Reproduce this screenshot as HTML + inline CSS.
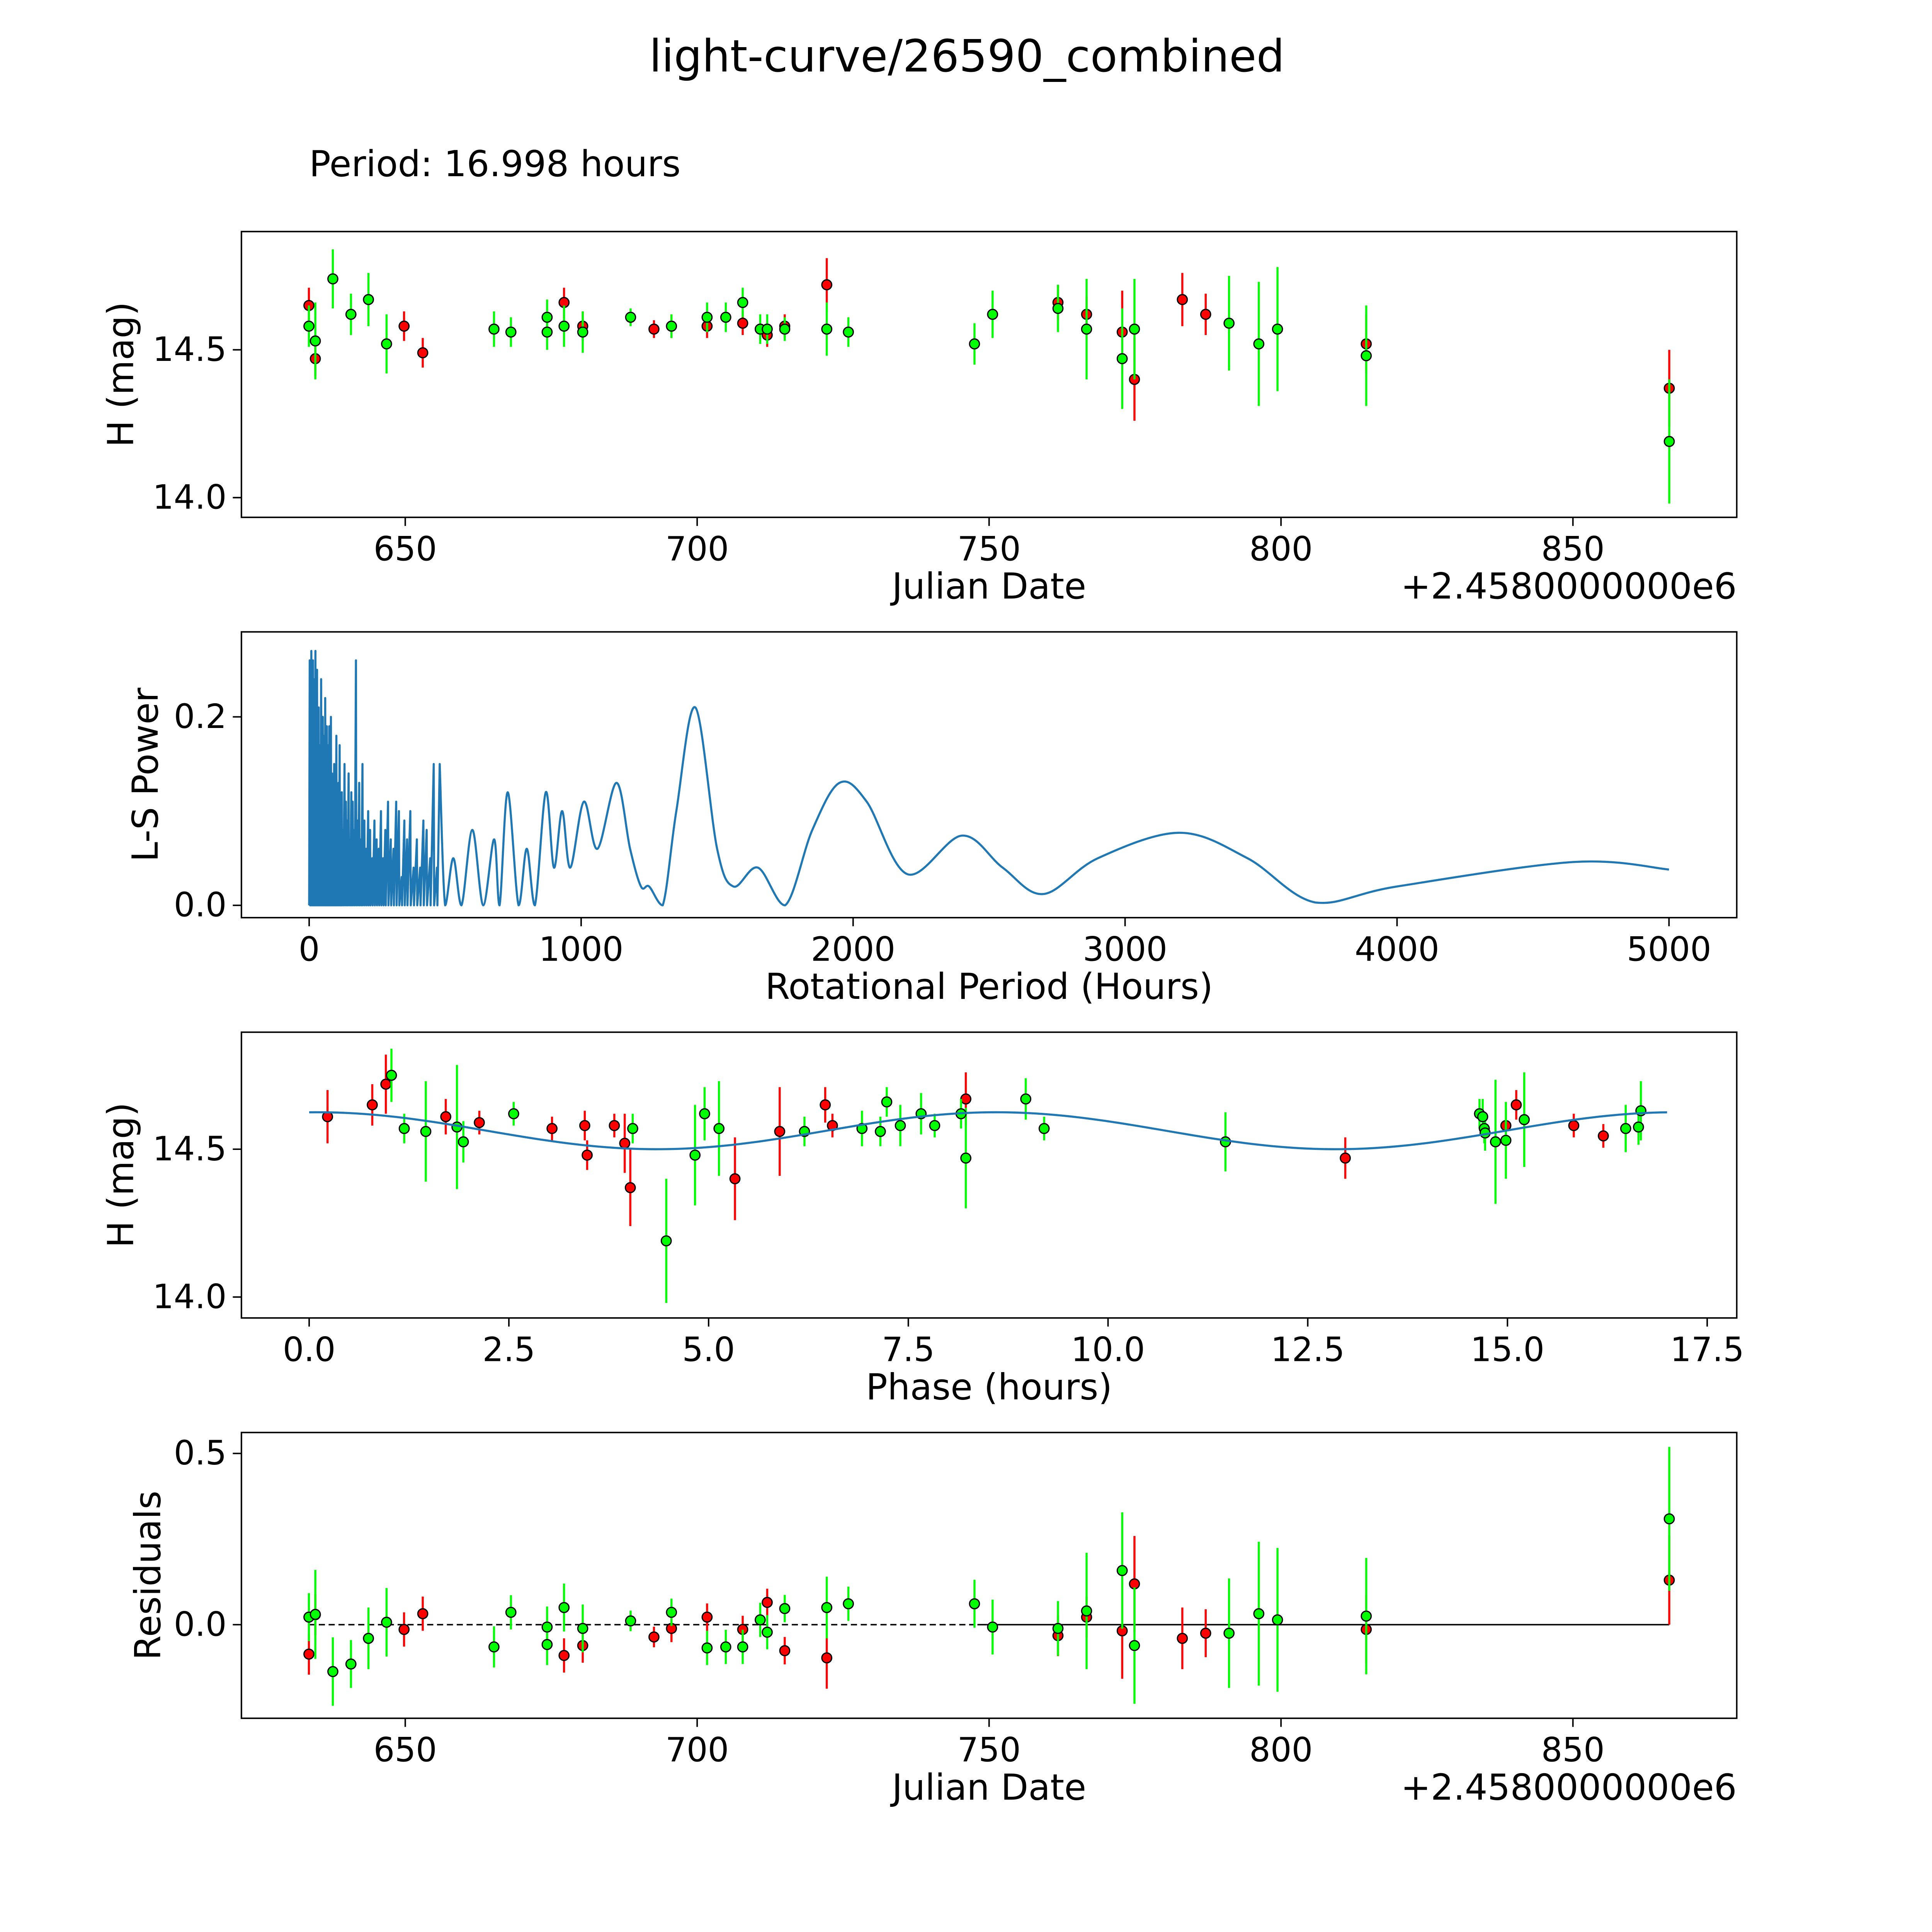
<!DOCTYPE html>
<html><head><meta charset="utf-8"><style>
html,body{margin:0;padding:0;background:#fff;overflow:hidden;width:5400px;height:5400px}
svg{display:block}
text{font-family:"DejaVu Sans","Liberation Sans",sans-serif;fill:#000}
</style></head><body>
<svg id="fig" xmlns="http://www.w3.org/2000/svg" width="5400" height="5400" viewBox="0 0 1694 1694">
<rect x="0" y="0" width="1694" height="1694" fill="#fff"/>
<text x="785" y="58" font-size="36" text-anchor="middle">light-curve/26590_combined</text>
<text x="251" y="143" font-size="29">Period: 16.998 hours</text>
</svg>
<script>
// ---- data: panel 1 / 4 (Julian date offset) ----
const greenJD = [633.5,634.6,637.6,640.7,643.7,646.8,665.2,668.1,674.3,674.3,677.2,680.4,688.6,695.6,701.7,704.9,707.8,710.8,712.0,715.0,722.2,725.9,747.5,750.6,761.8,766.7,772.8,774.9,791.1,796.2,799.4,814.6,866.5];
const greenMag = [14.58,14.53,14.74,14.62,14.67,14.52,14.57,14.56,14.61,14.56,14.58,14.56,14.61,14.58,14.61,14.61,14.66,14.57,14.57,14.57,14.57,14.56,14.52,14.62,14.64,14.57,14.47,14.57,14.59,14.52,14.57,14.48,14.19];
const greenErr = [0.07,0.13,0.10,0.07,0.09,0.10,0.06,0.05,0.06,0.06,0.07,0.07,0.03,0.04,0.05,0.05,0.05,0.05,0.05,0.04,0.09,0.05,0.07,0.08,0.08,0.17,0.17,0.17,0.16,0.21,0.21,0.17,0.21];
const greenRes = [0.022,0.03,-0.137,-0.115,-0.04,0.007,-0.065,0.036,-0.007,-0.058,0.05,-0.011,0.011,0.036,-0.068,-0.065,-0.065,0.014,-0.022,0.047,0.05,0.061,0.061,-0.007,-0.011,0.04,0.158,-0.061,-0.025,0.032,0.014,0.025,0.309];
const redJD = [633.5,634.6,649.8,653.0,677.2,680.4,692.6,695.6,701.7,707.8,712.0,715.0,722.2,761.8,766.7,772.8,774.9,783.1,787.1,814.6,866.5];
const redMag = [14.65,14.47,14.58,14.49,14.66,14.58,14.57,14.58,14.58,14.59,14.55,14.58,14.72,14.66,14.62,14.56,14.40,14.67,14.62,14.52,14.37];
const redErr = [0.06,0.06,0.05,0.05,0.05,0.05,0.03,0.04,0.04,0.04,0.04,0.04,0.09,0.06,0.06,0.14,0.14,0.09,0.07,0.10,0.13];
const redRes = [-0.086,0.029,-0.014,0.032,-0.09,-0.061,-0.036,-0.011,0.022,-0.014,0.065,-0.076,-0.097,-0.032,0.022,-0.018,0.119,-0.04,-0.025,-0.014,0.13];
// ---- data: panel 3 (phase) ----
const greenPhase = [1.19,1.46,1.85,1.93,1.03,2.56,4.05,4.47,4.83,4.95,5.13,6.20,6.92,7.15,7.23,7.40,7.66,7.83,8.16,8.22,8.97,9.20,11.47,14.65,14.69,14.71,14.72,14.85,14.98,15.21,16.48,16.64,16.67];
const greenPMag = [14.57,14.56,14.575,14.525,14.75,14.62,14.57,14.19,14.48,14.62,14.57,14.56,14.57,14.56,14.66,14.58,14.62,14.58,14.62,14.47,14.67,14.57,14.525,14.62,14.61,14.57,14.555,14.525,14.53,14.60,14.57,14.575,14.63];
const greenPErr = [0.05,0.17,0.21,0.07,0.09,0.04,0.05,0.21,0.17,0.09,0.16,0.05,0.06,0.05,0.05,0.07,0.07,0.04,0.05,0.17,0.07,0.04,0.1,0.05,0.06,0.05,0.06,0.21,0.13,0.16,0.08,0.06,0.1];
const redPhase = [0.23,0.79,0.96,1.71,2.13,3.04,3.45,3.48,3.82,3.95,4.02,5.33,5.89,6.46,6.55,8.22,12.97,14.98,15.11,15.83,16.20];
const redPMag = [14.61,14.65,14.72,14.61,14.59,14.57,14.58,14.48,14.58,14.52,14.37,14.40,14.56,14.65,14.58,14.67,14.47,14.58,14.65,14.58,14.545];
const redPErr = [0.09,0.07,0.1,0.06,0.04,0.04,0.05,0.05,0.04,0.1,0.13,0.14,0.15,0.06,0.04,0.09,0.07,0.06,0.05,0.04,0.04];
const modelCoef = [14.5625, 0.0625, 8.6, 8.5]; // mean, amplitude, peak phase, harmonic period
// ---- data: periodogram ----
const spikePeriods = [2,5,8,11,14,17,20,23,26,29,32,35,38,41,44,47,50,53,56,59,62,65,68,71,74,77,80,84,88,92,96,100,104,108,112,116,120,125,130,135,140,145,150,155,160,166,172,178,184,190,196,203,210,217,224,232,240,248,256,264,272,280,290,300,310,320,330,340,350,360,372,384,396,408,420,432,445,458,470];
const spikePowers = [0.26,0.23,0.27,0.20,0.26,0.24,0.18,0.27,0.22,0.25,0.19,0.21,0.17,0.15,0.24,0.16,0.20,0.13,0.18,0.22,0.14,0.19,0.12,0.17,0.19,0.10,0.20,0.14,0.12,0.15,0.11,0.18,0.09,0.13,0.17,0.10,0.12,0.08,0.15,0.11,0.09,0.14,0.07,0.12,0.11,0.08,0.26,0.09,0.13,0.07,0.15,0.09,0.06,0.10,0.08,0.05,0.09,0.07,0.06,0.10,0.05,0.08,0.11,0.07,0.06,0.11,0.10,0.03,0.09,0.07,0.10,0.04,0.07,0.04,0.09,0.08,0.05,0.15,0.04];
const smoothPeriods = [480,500,530,560,600,640,680,700,730,770,800,830,870,900,930,960,1010,1060,1130,1180,1220,1250,1300,1350,1420,1500,1560,1650,1750,1850,1950,2050,2200,2400,2550,2700,2900,3200,3450,3700,4000,4650,5000];
const smoothPowers = [0.15,0.0,0.05,0.0,0.08,0.0,0.07,0.0,0.12,0.0,0.06,0.0,0.12,0.04,0.10,0.04,0.11,0.06,0.13,0.06,0.02,0.02,0.0,0.10,0.21,0.06,0.02,0.04,0.0,0.08,0.13,0.11,0.033,0.074,0.04,0.012,0.05,0.077,0.05,0.003,0.02,0.046,0.038];
// ---- ticks ----
const jdTicks = [650,700,750,800,850];
const magTicks = [14.0,14.5];
const periodTicks = [0,1000,2000,3000,4000,5000];
const powerTicks = [0.0,0.2];
const phaseTicks = [0,2.5,5,7.5,10,12.5,15,17.5];
const resTicks = [0.0,0.5];

const NS='http://www.w3.org/2000/svg';
const svg=document.getElementById('fig');
function mk(tag,attrs,parent){const e=document.createElementNS(NS,tag);for(const k in attrs)e.setAttribute(k,attrs[k]);(parent||svg).appendChild(e);return e;}
function lin(d0,d1,p0,p1){return v=>p0+(v-d0)*(p1-p0)/(d1-d0);}

const X0=196,X1=1410;
const jdX=lin(650,850,329,1277);
const panels=[
 {top:188,bot:420,y:lin(14.5,14.0,284,404),name:'light-curve'},
 {top:513,bot:745,y:lin(0,0.2,735,582),name:'periodogram'},
 {top:838,bot:1070,y:lin(14.5,14.0,933,1053),name:'phase'},
 {top:1163,bot:1395,y:lin(0,0.5,1319,1180),name:'residuals'}];
const perX=lin(0,5000,251,1355);
const phX=lin(0,17.5,251,1386);

function fmt(v,d){return v.toFixed(d);}
function axes(p,xs,xf,xd,ys,yd,xlabel,ylabel,ylx,offset){
 const g=mk('g',{});
 
 
 xs.forEach(v=>{const x=xf(v);
  mk('line',{x1:x,x2:x,y1:p.bot,y2:p.bot+7,stroke:'#000','stroke-width':1.2},g);
  const tx=mk('text',{x:x,y:p.bot+35,'font-size':27,'text-anchor':'middle'},g);
  tx.textContent=fmt(v,xd);
  
  });
 ys.forEach(v=>{const y=p.y(v);
  mk('line',{x1:X0-7,x2:X0,y1:y,y2:y,stroke:'#000','stroke-width':1.2},g);
  const tx=mk('text',{x:X0-12,y:y+9,'font-size':27,'text-anchor':'end'},g);
  tx.textContent=fmt(v,yd);
  
  });
 const xl=mk('text',{x:803,y:p.bot+66,'font-size':29,'text-anchor':'middle'},g);
 xl.textContent=xlabel;
 
 
 const cy=(p.top+p.bot)/2;
 const yl=mk('text',{x:ylx,y:cy,'font-size':29,'text-anchor':'middle',transform:'rotate(-90 '+ylx+' '+cy+')'},g);
 yl.textContent=ylabel;
 
 
 if(offset){const o=mk('text',{x:X1,y:p.bot+66,'font-size':29,'text-anchor':'end'},g);
  o.textContent='+2.4580000000e6';
  
  }
}
function frame(p){const r=mk('rect',{x:X0,y:p.top,width:X1-X0,height:p.bot-p.top,fill:'none',stroke:'#000','stroke-width':1.2});
 
 }
function series(p,xf,xs,ys,es,col,nm){
 const g=mk('g',{});
 
 
 xs.forEach((v,i)=>{const x=xf(v);
  const l=mk('line',{x1:x,x2:x,y1:p.y(ys[i]-es[i]),y2:p.y(ys[i]+es[i]),stroke:col,'stroke-width':1.7},g);
  
  });
 xs.forEach((v,i)=>{const c=mk('circle',{cx:xf(v),cy:p.y(ys[i]),r:4,fill:col,stroke:'#000','stroke-width':1},g);
  
  });
}
// Panel 1
let p=panels[0];
axes(p,jdTicks,jdX,0,magTicks,1,'Julian Date','H (mag)',108,true);
series(p,jdX,redJD,redMag,redErr,'#ff0000','red-observations');
series(p,jdX,greenJD,greenMag,greenErr,'#00ff00','green-observations');
frame(p);
// Panel 2
p=panels[1];
axes(p,periodTicks,perX,0,powerTicks,1,'Rotational Period (Hours)','L-S Power',128,false);
(function(){
 let d='M'+perX(0)+','+p.y(0);
 spikePeriods.forEach((v,i)=>{d+=' L'+perX(v)+','+p.y(spikePowers[i])+' L'+perX(v+1.5)+','+p.y(0);});
 const pts=smoothPeriods.map((v,i)=>[perX(v),p.y(smoothPowers[i])]);
 d+=' L'+pts[0][0]+','+pts[0][1];
 for(let i=0;i<pts.length-1;i++){
  const a=pts[Math.max(0,i-1)],b=pts[i],c=pts[i+1],e=pts[Math.min(pts.length-1,i+2)];
  const c1=[b[0]+(c[0]-a[0])/6,b[1]+(c[1]-a[1])/6],c2=[c[0]-(e[0]-b[0])/6,c[1]-(e[1]-b[1])/6];
  d+=' C'+c1[0]+','+Math.min(c1[1],p.y(0))+' '+c2[0]+','+Math.min(c2[1],p.y(0))+' '+c[0]+','+c[1];
 }
 const path=mk('path',{d:d,fill:'none',stroke:'#1f77b4','stroke-width':1.7,'stroke-linejoin':'round'});
 
 
})();
frame(p);
// Panel 3
p=panels[2];
axes(p,phaseTicks,phX,1,magTicks,1,'Phase (hours)','H (mag)',108,false);
series(p,phX,redPhase,redPMag,redPErr,'#ff0000','red-phased-observations');
series(p,phX,greenPhase,greenPMag,greenPErr,'#00ff00','green-phased-observations');
(function(){
 let d='';
 for(let i=0;i<=200;i++){const t=16.998*i/200;
  const v=modelCoef[0]+modelCoef[1]*Math.cos(2*Math.PI*(t-modelCoef[2])/modelCoef[3]);
  d+=(i?' L':'M')+phX(t)+','+p.y(v);}
 const m=mk('path',{d:d,fill:'none',stroke:'#1f77b4','stroke-width':1.7});
 
 
})();
frame(p);
// Panel 4
p=panels[3];
axes(p,jdTicks,jdX,0,resTicks,1,'Julian Date','Residuals',130,true);
(function(){
 const a=mk('line',{x1:jdX(633.5),x2:jdX(748),y1:p.y(0),y2:p.y(0),stroke:'#000','stroke-width':1.2,'stroke-dasharray':'5,3'});
 
 
 const b=mk('line',{x1:jdX(748),x2:jdX(866.5),y1:p.y(0),y2:p.y(0),stroke:'#000','stroke-width':1.2});
 
 
})();
series(p,jdX,redJD,redRes,redErr,'#ff0000','red-residuals');
series(p,jdX,greenJD,greenRes,greenErr,'#00ff00','green-residuals');
frame(p);
</script>
</body></html>
